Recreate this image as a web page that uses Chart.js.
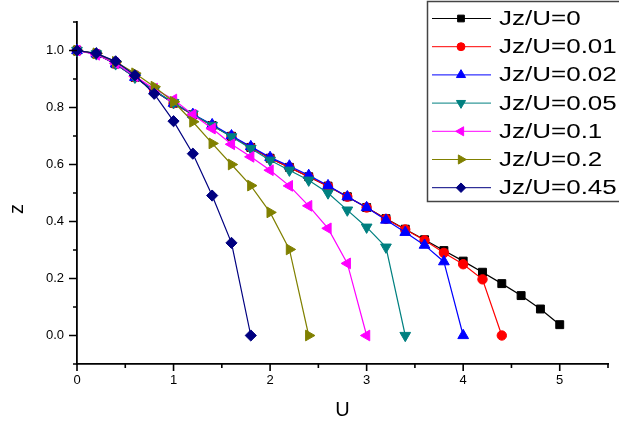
<!DOCTYPE html>
<html>
<head>
<meta charset="utf-8">
<script src="https://cdn.jsdelivr.net/npm/chart.js@4/dist/chart.umd.min.js"></script>
<style>
  html, body { margin: 0; padding: 0; background: #fff; }
  #wrap { width: 619px; height: 425px; position: relative; }
</style>
</head>
<body>
<div id="wrap"><canvas id="c" width="619" height="425"></canvas></div>
<script>
// U grid shared by every curve (step 0.2)
const uGrid = [0, 0.2, 0.4, 0.6, 0.8, 1.0, 1.2, 1.4, 1.6, 1.8, 2.0, 2.2, 2.4,
               2.6, 2.8, 3.0, 3.2, 3.4, 3.6, 3.8, 4.0, 4.2, 4.4, 4.6, 4.8, 5.0];

// z(U) for each Jz/U value
const zJ0    = [1.000, 0.988, 0.953, 0.906, 0.859, 0.815, 0.775, 0.737, 0.699, 0.660, 0.622, 0.590, 0.557,
                0.524, 0.487, 0.449, 0.410, 0.373, 0.336, 0.298, 0.261, 0.222, 0.182, 0.140, 0.093, 0.038];
const zJ001  = [1.000, 0.988, 0.953, 0.906, 0.859, 0.815, 0.775, 0.737, 0.699, 0.660, 0.622, 0.590, 0.557,
                0.524, 0.487, 0.449, 0.409, 0.372, 0.334, 0.290, 0.250, 0.197, 0.000];
const zJ002  = [1.000, 0.988, 0.953, 0.906, 0.859, 0.815, 0.776, 0.740, 0.701, 0.663, 0.625, 0.595, 0.562,
                0.526, 0.487, 0.449, 0.405, 0.362, 0.317, 0.259, 0.000];
const zJ005  = [1.000, 0.988, 0.953, 0.906, 0.860, 0.817, 0.777, 0.737, 0.697, 0.656, 0.615, 0.580, 0.545,
                0.500, 0.440, 0.380, 0.310, 0.000];
const zJ01   = [1.000, 0.985, 0.955, 0.910, 0.866, 0.828, 0.775, 0.726, 0.671, 0.627, 0.580, 0.525, 0.455,
                0.376, 0.253, 0.000];
const zJ02   = [1.000, 0.990, 0.960, 0.920, 0.873, 0.820, 0.750, 0.674, 0.600, 0.526, 0.432, 0.302, 0.000];
const zJ045  = [1.000, 0.990, 0.962, 0.913, 0.848, 0.752, 0.638, 0.491, 0.325, 0.000];

const seriesNames  = ['Jz/U=0', 'Jz/U=0.01', 'Jz/U=0.02', 'Jz/U=0.05', 'Jz/U=0.1', 'Jz/U=0.2', 'Jz/U=0.45'];
const seriesValues = [zJ0, zJ001, zJ002, zJ005, zJ01, zJ02, zJ045];

// axis ticks
const xTickValues = [0, 1, 2, 3, 4, 5];
const yTickValues = [0.0, 0.2, 0.4, 0.6, 0.8, 1.0];

const colors   = ['#000000', '#ff0000', '#0000ff', '#008080', '#ff00ff', '#808000', '#000080'];
const styles   = ['rect', 'circle', 'triangle', 'triangle', 'triangle', 'triangle', 'rectRot'];
const rotations = [0, 0, 0, 180, -90, 90, 0];
const radii    = [5.6, 4.7, 6.2, 6.2, 6.2, 6.2, 5.6];

const FONT = '"Liberation Sans", Arial, sans-serif';

const datasets = seriesValues.map((vals, i) => ({
  label: seriesNames[i],
  data: vals.map((z, k) => ({ x: uGrid[k], y: z })),
  showLine: true,
  borderColor: colors[i],
  backgroundColor: colors[i],
  borderWidth: 1.2,
  pointStyle: styles[i],
  pointRotation: rotations[i],
  pointRadius: radii[i],
  pointHoverRadius: radii[i],
  pointBackgroundColor: colors[i],
  pointBorderColor: colors[i],
  pointBorderWidth: 1,
  order: seriesValues.length - 1 - i,
  clip: false
}));

const near = (v, list) => list.some(t => Math.abs(t - v) < 1e-6);

// minor / major tick marks, the "z" axis title and the boxed legend
const decorations = {
  id: 'decorations',
  afterDraw(chart) {
    const ctx = chart.ctx;
    const xs = chart.scales.x, ys = chart.scales.y;
    const area = chart.chartArea;
    ctx.save();
    ctx.strokeStyle = '#000';
    ctx.lineWidth = 1.6;
    ctx.beginPath();
    xs.ticks.forEach(t => {
      const px = xs.getPixelForValue(t.value);
      const len = near(t.value, xTickValues) ? 7 : 4;
      ctx.moveTo(px, area.bottom);
      ctx.lineTo(px, area.bottom + len);
    });
    ys.ticks.forEach(t => {
      const py = ys.getPixelForValue(t.value);
      const len = near(t.value, yTickValues) ? 8 : 4;
      ctx.moveTo(area.left, py);
      ctx.lineTo(area.left - len, py);
    });
    ctx.stroke();

    // y axis title
    ctx.fillStyle = '#000';
    ctx.font = '20px ' + FONT;
    ctx.textAlign = 'center';
    ctx.textBaseline = 'middle';
    ctx.translate(17, 209);
    ctx.rotate(-Math.PI / 2);
    ctx.fillText('z', 0, 0);
    ctx.restore();

    // legend
    ctx.save();
    ctx.strokeStyle = '#444';
    ctx.lineWidth = 1.5;
    ctx.strokeRect(427.5, 1.5, 210, 200);
    seriesNames.forEach((name, i) => {
      const y = 18.5 + i * 28.2;
      ctx.strokeStyle = colors[i];
      ctx.lineWidth = 1;
      ctx.beginPath();
      ctx.moveTo(432, y);
      ctx.lineTo(491, y);
      ctx.stroke();
      ctx.fillStyle = colors[i];
      ctx.strokeStyle = colors[i];
      Chart.helpers.drawPoint(ctx, {
        pointStyle: styles[i],
        rotation: rotations[i],
        radius: radii[i] * 0.85,
        borderWidth: 1
      }, 461, y);
      ctx.save();
      ctx.fillStyle = '#000';
      ctx.font = '20px ' + FONT;
      ctx.textAlign = 'left';
      ctx.textBaseline = 'middle';
      ctx.translate(499, y + 1);
      ctx.scale(1.3, 1);
      ctx.fillText(name, 0, 0);
      ctx.restore();
    });
    ctx.restore();
  }
};

new Chart(document.getElementById('c'), {
  type: 'scatter',
  data: { datasets },
  options: {
    responsive: false,
    animation: false,
    devicePixelRatio: 1,
    layout: { padding: { top: 22, right: 11, left: 0, bottom: 0 }, autoPadding: false },
    plugins: { legend: { display: false }, tooltip: { enabled: false } },
    scales: {
      x: {
        type: 'linear',
        min: 0, max: 5.5,
        afterFit(s) { s.height = 61; },
        border: { display: true, color: '#000', width: 1.8 },
        grid: { display: false, drawTicks: true, tickLength: 7 },
        ticks: {
          stepSize: 0.5,
          autoSkip: false,
          maxRotation: 0,
          padding: 2,
          color: '#000',
          font: { family: FONT, size: 13 },
          callback: v => near(v, xTickValues) ? String(Math.round(v)) : ''
        },
        title: {
          display: true, text: 'U', color: '#000',
          font: { family: FONT, size: 20 },
          padding: { top: 0, bottom: 3 }
        }
      },
      y: {
        type: 'linear',
        min: -0.1, max: 1.1,
        afterFit(s) { s.width = 77; },
        border: { display: true, color: '#000', width: 1.8 },
        grid: { display: false, drawTicks: true, tickLength: 8 },
        ticks: {
          stepSize: 0.1,
          autoSkip: false,
          padding: 5,
          color: '#000',
          font: { family: FONT, size: 13 },
          callback: v => near(v, yTickValues) ? v.toFixed(1) : ''
        }
      }
    }
  },
  plugins: [decorations]
});
</script>
</body>
</html>
